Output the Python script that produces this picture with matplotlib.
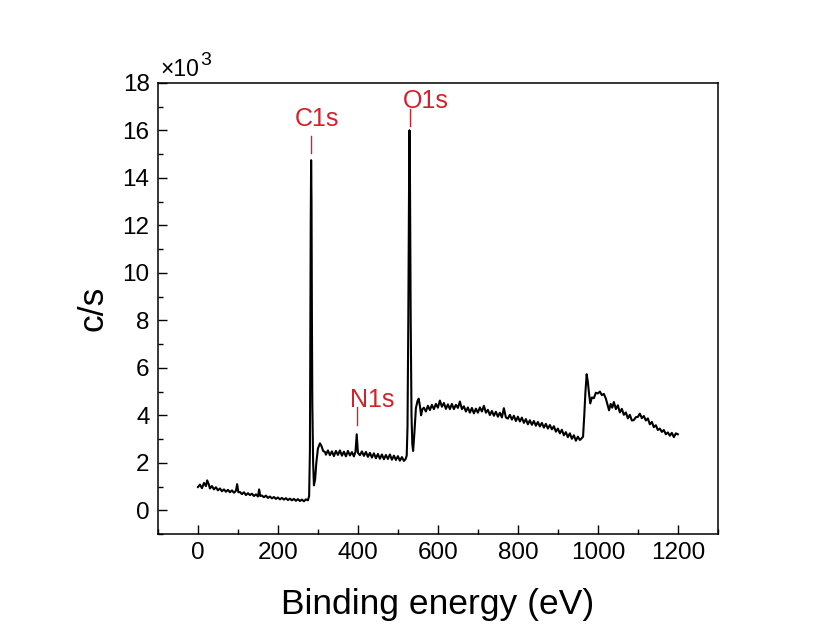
import numpy as np
import matplotlib.pyplot as plt
from matplotlib.ticker import MultipleLocator

plt.rcParams["font.family"] = ["Liberation Sans", "DejaVu Sans"]

# ---------------------------------------------------------------------
# Datos leídos del espectro XPS (energía de enlace en eV, c/s en 1e3)
# ---------------------------------------------------------------------

be_low = [0, 5, 10, 15, 20, 23, 27, 30, 35, 40, 45, 50, 55, 60, 65, 70, 75, 80,
          85, 90, 95, 98, 101, 105, 110, 115, 120, 125, 130, 135, 140, 145, 150,
          153, 156, 160, 165, 170, 175, 180, 185, 190, 195, 200, 205, 210, 215,
          220, 225, 230, 235, 240, 245, 250, 255, 260, 265, 270, 275, 278]
cps_low = [0.98, 1.08, 0.93, 1.15, 1.02, 1.26, 1.10, 0.92, 1.02, 0.88, 0.97,
           0.84, 0.92, 0.80, 0.88, 0.78, 0.86, 0.76, 0.84, 0.74, 0.82, 1.10,
           0.76, 0.77, 0.68, 0.76, 0.64, 0.72, 0.64, 0.70, 0.60, 0.67, 0.58,
           0.88, 0.60, 0.62, 0.55, 0.62, 0.52, 0.58, 0.50, 0.56, 0.48, 0.54,
           0.46, 0.52, 0.45, 0.51, 0.43, 0.49, 0.42, 0.48, 0.40, 0.47, 0.39,
           0.45, 0.38, 0.46, 0.42, 0.60]

be_c1s = [280, 281, 282, 283, 284, 285, 286, 288, 290, 293, 296, 300, 305, 309,
          313, 318, 320, 325, 330, 335, 340, 345, 350, 355, 360, 365, 370, 375,
          380, 385, 390, 394, 397, 400, 405, 410, 415, 420, 425, 430, 435, 440,
          445, 450, 455, 460, 465, 470, 475, 480, 485, 490, 495, 500, 505, 510,
          515, 519]
cps_c1s = [2.5, 7.0, 12.0, 14.74, 13.0, 8.0, 4.5, 2.0, 1.05, 1.3, 2.0, 2.6,
           2.82, 2.7, 2.5, 2.45, 2.34, 2.52, 2.32, 2.48, 2.28, 2.50, 2.33, 2.52,
           2.30, 2.47, 2.27, 2.50, 2.31, 2.45, 2.27, 2.47, 3.20, 2.42, 2.32,
           2.48, 2.29, 2.46, 2.25, 2.42, 2.22, 2.40, 2.19, 2.37, 2.17, 2.35,
           2.15, 2.33, 2.16, 2.35, 2.13, 2.30, 2.12, 2.28, 2.09, 2.24, 2.08,
           2.15]

be_o1s = [522, 524, 526, 528, 529, 530, 532, 534, 536, 538, 541, 545, 549, 552,
          555, 558, 561, 565, 570, 575, 580, 585, 590, 595, 600, 605, 610, 615,
          620, 625, 630, 635, 640, 645, 650, 655, 660, 665, 670, 675, 680, 685,
          690, 695, 700, 705, 710, 715, 720, 725, 730, 735, 740, 745, 750, 755,
          760, 765, 770, 775, 780, 785, 790, 795, 800, 805, 810, 815, 820, 825,
          830, 835, 840, 845, 850, 855, 860, 865, 870, 875, 880, 885, 890, 895,
          900, 905, 910, 915, 920, 925, 930, 935, 940, 945, 950, 955, 960, 963]
cps_o1s = [2.3, 3.5, 8.0, 14.0, 16.0, 14.5, 8.0, 4.0, 2.8, 2.5, 3.2, 4.3, 4.6,
           4.7, 4.4, 4.0, 4.25,
           4.32, 4.16, 4.40, 4.22, 4.44, 4.26, 4.48, 4.32, 4.62, 4.36, 4.52,
           4.27, 4.46, 4.26, 4.48, 4.26, 4.44, 4.31, 4.58, 4.26, 4.38, 4.16,
           4.33, 4.11, 4.31, 4.08, 4.28, 4.11, 4.33, 4.16, 4.40, 4.11, 4.23,
           4.01, 4.18, 3.98, 4.15, 3.94, 4.11, 3.91, 4.30,
           3.91, 3.86, 4.02, 3.82, 3.98, 3.76, 3.94, 3.74, 3.90, 3.68, 3.84,
           3.62, 3.79, 3.60, 3.76, 3.56, 3.72, 3.53, 3.68, 3.48, 3.64, 3.44,
           3.59, 3.41, 3.54, 3.31, 3.44, 3.24, 3.39, 3.16, 3.29, 3.08, 3.24,
           3.01, 3.16, 2.93, 3.10, 2.96, 3.04,
           3.10]

be_high = [966, 969, 972, 975, 978, 981, 985, 990, 995, 1000, 1005, 1010, 1015,
           1020, 1025, 1028, 1032, 1036, 1040, 1045, 1050, 1055, 1060, 1065,
           1070, 1075, 1080, 1085, 1090, 1095, 1100, 1105, 1110, 1115, 1120,
           1125, 1130, 1135, 1140, 1145, 1150, 1155, 1160, 1165, 1170, 1175,
           1180, 1185, 1190, 1195, 1200]
cps_high = [4.0, 5.0, 5.73, 5.4, 4.9, 4.5, 4.75, 4.72, 4.95, 4.92, 5.0, 4.85,
            4.9, 4.7, 4.4, 4.21, 4.48, 4.32, 4.56, 4.26, 4.42, 4.12, 4.27,
            4.02, 4.12, 3.87, 4.02, 3.78, 3.80, 3.92, 3.93, 4.07, 3.88, 3.97,
            3.78, 3.87, 3.62, 3.72,
            3.50, 3.58, 3.38, 3.44, 3.30, 3.38, 3.20, 3.28, 3.14, 3.26, 3.08,
            3.24, 3.20]

# Etiquetas de picos y sus marcas
peak_names = ["C1s", "N1s", "O1s"]
peak_text_x = [298, 436, 570]
peak_text_y = [16.47, 4.63, 17.23]
peak_mark_x = [283, 398, 529]
peak_mark_y0 = [15.04, 3.58, 16.2]
peak_mark_y1 = [15.75, 4.35, 16.9]

# ---------------------------------------------------------------------
# Figura
# ---------------------------------------------------------------------

be = np.concatenate([be_low, be_c1s, be_o1s, be_high])
cps = np.concatenate([cps_low, cps_c1s, cps_o1s, cps_high])

fig = plt.figure(figsize=(8.27, 6.32), dpi=100)
ax = fig.add_axes([0.191, 0.155, 0.677, 0.714])

ax.plot(be, cps, color="black", lw=1.5)

red = "#d42028"
for name, tx, ty, mx, y0, y1 in zip(peak_names, peak_text_x, peak_text_y,
                                    peak_mark_x, peak_mark_y0, peak_mark_y1):
    ax.plot([mx, mx], [y0, y1], color=red, lw=1.0)
    ax.text(tx, ty, name, color=red, fontsize=18, ha="center", va="center")

ax.set_xlim(-100, 1300)
ax.set_ylim(-1, 18)
ax.xaxis.set_major_locator(MultipleLocator(200))
ax.xaxis.set_minor_locator(MultipleLocator(100))
ax.yaxis.set_major_locator(MultipleLocator(2))
ax.yaxis.set_minor_locator(MultipleLocator(1))

ax.tick_params(which="both", direction="in", top=False, right=False,
               labelsize=17.5, width=1.0)
ax.tick_params(which="major", length=6.7, pad=6)
ax.tick_params(which="minor", length=3.3)
for sp in ax.spines.values():
    sp.set_linewidth(1.1)

ax.set_xlabel("Binding energy (eV)", fontsize=25.5, labelpad=17)
ax.set_ylabel("c/s", fontsize=25.5, labelpad=9)

# Factor de escala arriba a la izquierda
ax.text(0.004, 1.016, "×10", transform=ax.transAxes, fontsize=16.5,
        ha="left", va="baseline")
ax.text(0.075, 1.039, "3", transform=ax.transAxes, fontsize=14,
        ha="left", va="baseline")

fig.savefig("out.png", dpi=100)
